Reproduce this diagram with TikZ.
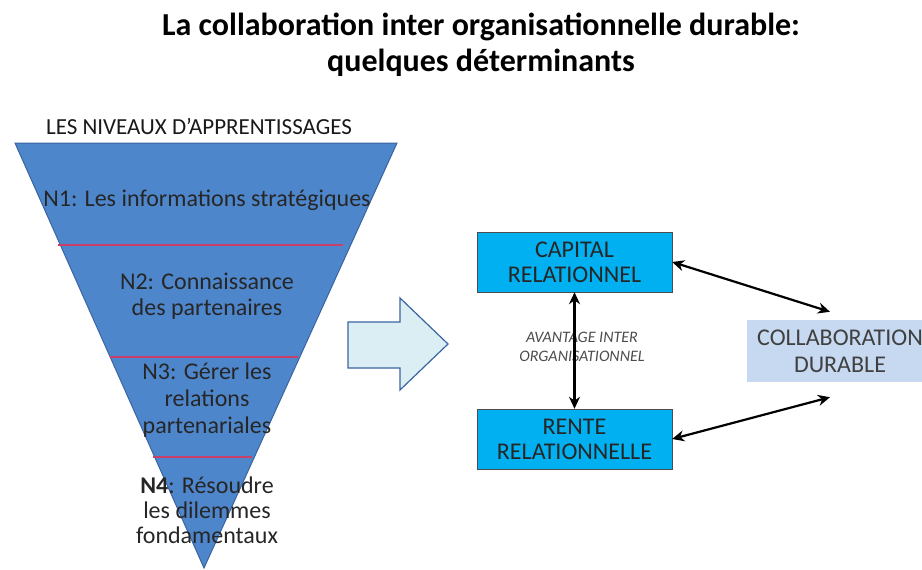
\documentclass[tikz,border=0pt]{standalone}
\usepackage{fontspec}
\setmainfont{Carlito}
\usetikzlibrary{arrows.meta}
\definecolor{pyramidblue}{HTML}{4E86CC}
\definecolor{pyramidedge}{HTML}{3A64A0}
\definecolor{levelred}{HTML}{C8406A}
\definecolor{capblue}{HTML}{00B0F0}
\definecolor{paleblue}{HTML}{DBEEF4}
\definecolor{collblue}{HTML}{C6D9F1}

\begin{document}
\begin{tikzpicture}[x=1pt,y=-1pt,
		level/.style={align=center,font=\fontsize{24}{26}\selectfont,text=black!85},
		box/.style={draw=black!70,fill=capblue,minimum width=195pt,minimum height=60pt,inner sep=0pt,align=center,font=\fontsize{24}{25}\selectfont,text=black!85},
		link/.style={{Stealth[length=12pt,width=11pt]}-{Stealth[length=12pt,width=11pt]},line width=2.2pt}]
			\useasboundingbox (0,0) rectangle (922,570);

			\node[font=\bfseries\fontsize{32}{36}\selectfont,align=center] (title) at (481,45) {La collaboration inter organisationnelle durable:\\quelques déterminants};

			\node[font=\fontsize{23}{24}\selectfont,text=black!90] (head) at (199,126) {LES NIVEAUX D'APPRENTISSAGES};
			\filldraw[fill=pyramidblue,draw=pyramidedge,line width=1pt] (15,143) -- (397,143) -- (204,568) -- cycle;
			\draw[levelred,line width=2pt] (58,245) -- (343,245);
			\draw[levelred,line width=2pt] (110,357) -- (298,357);
			\draw[levelred,line width=2pt] (153,457) -- (252,457);

			\node[level] (n1) at (207,200) {N1: Les informations stratégiques};
			\node[level] (n2) at (207,296) {N2: Connaissance\\des partenaires};
			\node[level,font=\fontsize{24}{27}\selectfont] (n3) at (207,400) {N3: Gérer les\\relations\\partenariales};
			\node[level,font=\fontsize{24}{25}\selectfont] (n4) at (207,510) {\textbf{N4}: Résoudre\\les dilemmes\\fondamentaux};

			\filldraw[fill=paleblue,draw=pyramidedge,line width=1.2pt] (348,322) -- (400,322) -- (400,298) -- (448,344) -- (400,390) -- (400,368) -- (348,368) -- cycle;

			\node[box] (cap) at (574.5,262) {CAPITAL\\RELATIONNEL};
			\node[box] (rente) at (574.5,439) {RENTE\\RELATIONNELLE};
			\node[fill=collblue,minimum width=186pt,minimum height=62pt,inner sep=0pt,align=center,font=\fontsize{24}{27}\selectfont,text=black!75] (coll) at (840,351) {COLLABORATION\\DURABLE};

			\node[font=\itshape\fontsize{16}{19}\selectfont,align=center,text=black!70] (avantage) at (582,347) {AVANTAGE INTER\\ORGANISATIONNEL};
			\draw[link] (cap.south) -- (rente.north);
			\draw[link] (cap.east) -- ([xshift=-10pt,yshift=8pt]coll.north);
			\draw[link] (rente.east) -- ([xshift=-10pt,yshift=-15pt]coll.south);

\end{tikzpicture}
\end{document}
